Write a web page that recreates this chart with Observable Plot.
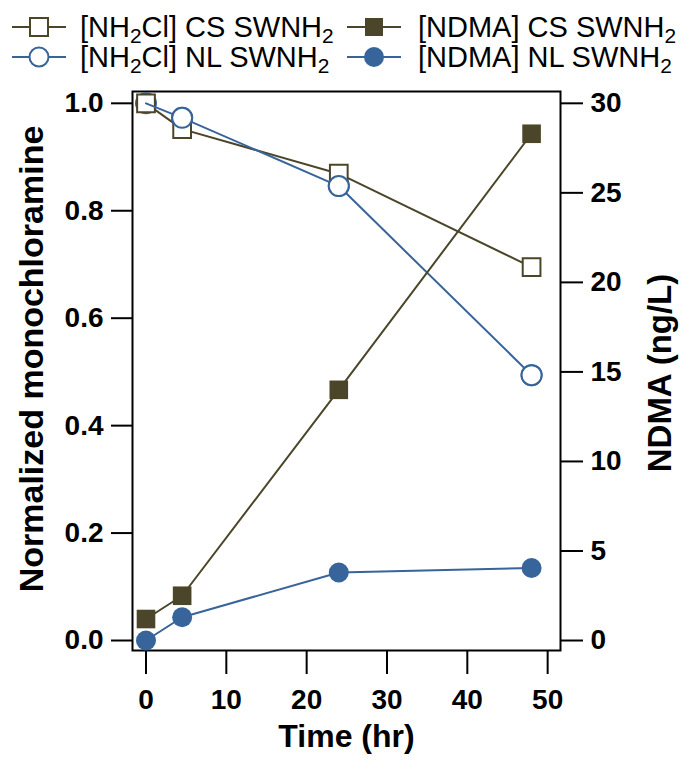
<!DOCTYPE html>
<html><head><meta charset="utf-8">
<script src="https://cdn.jsdelivr.net/npm/d3@7"></script>
<script src="https://cdn.jsdelivr.net/npm/@observablehq/plot@0.6"></script>
<style>
body{margin:0;background:#fff;}
#wrap{position:relative;width:685px;height:761px;font-family:"Liberation Sans",Arial,Helvetica,sans-serif;}
#chart{position:absolute;left:0;top:0;}
.legsw{position:absolute;}
.legtx{position:absolute;font-size:29px;line-height:30px;height:30px;color:#000;white-space:nowrap;}
.legtx sub{font-size:0.72em;vertical-align:-0.3em;line-height:0;}
</style></head><body>
<div id="wrap"><div id="chart"></div><div id="legend"></div></div>
<script>
// ---- data ----
const time = [0, 4.5, 24, 48];
const nh2clCS = [1.0, 0.952, 0.869, 0.695];
const nh2clNL = [1.0, 0.973, 0.846, 0.494];
const ndmaCS = [1.2, 2.5, 14.0, 28.3];
const ndmaNL = [0.0, 1.3, 3.8, 4.05];
const xTicks = [0, 10, 20, 30, 40, 50];
const leftTicks = [0, 0.2, 0.4, 0.6, 0.8, 1.0];
const rightTicks = [0, 5, 10, 15, 20, 25, 30];
const ndmaMax = 30;
const legendLabels = [
  "[NH<sub>2</sub>Cl] CS SWNH<sub>2</sub>",
  "[NDMA] CS SWNH<sub>2</sub>",
  "[NH<sub>2</sub>Cl] NL SWNH<sub>2</sub>",
  "[NDMA] NL SWNH<sub>2</sub>"
];

const olive = "#4b4629", blue = "#37649a";
const tidy = (vals, scale = 1) => time.map((t, i) => ({t, v: vals[i] / scale}));
const sCS = tidy(nh2clCS), sNL = tidy(nh2clNL);
const nCS = tidy(ndmaCS, ndmaMax), nNL = tidy(ndmaNL, ndmaMax);

const chart = Plot.plot({
  width: 685, height: 761,
  marginLeft: 132, marginRight: 125, marginTop: 91, marginBottom: 111,
  style: {fontFamily: "'Liberation Sans', Arial, Helvetica, sans-serif", fontWeight: "bold", color: "#000", background: "#fff"},
  x: {domain: [-1.68, 51.6]},
  y: {domain: [-0.0186, 1.022]},
  marks: [
    Plot.axisX(xTicks, {tickSize: 24, tickPadding: 15, fontSize: 28, fontWeight: "bold", strokeWidth: 2, label: null, tickFormat: d => String(d)}),
    Plot.axisY(leftTicks, {anchor: "left", tickSize: 21, tickPadding: 8, fontSize: 28, fontWeight: "bold", strokeWidth: 2, label: null, tickFormat: d3.format(".1f")}),
    Plot.axisY(rightTicks.map(t => t / ndmaMax), {anchor: "right", tickSize: 22, tickPadding: 8, fontSize: 28, fontWeight: "bold", strokeWidth: 2, label: null, tickFormat: d => String(Math.round(d * ndmaMax))}),
    Plot.frame({stroke: "#000", strokeWidth: 2}),
    // monochloramine
    Plot.dot(sNL, {x: "t", y: "v", r: 10, stroke: blue, strokeWidth: 2, fill: "#fff", symbol: "circle"}),
    Plot.line(sCS, {x: "t", y: "v", stroke: olive, strokeWidth: 2}),
    Plot.dot(sCS, {x: "t", y: "v", r: 10, stroke: olive, strokeWidth: 2, fill: "#fff", symbol: "square"}),
    Plot.line(sNL, {x: "t", y: "v", stroke: blue, strokeWidth: 2}),
    Plot.dot(sNL.slice(1), {x: "t", y: "v", r: 10, stroke: blue, strokeWidth: 2, fill: "#fff", symbol: "circle"}),
    // NDMA
    Plot.line(nCS, {x: "t", y: "v", stroke: olive, strokeWidth: 2}),
    Plot.dot(nCS, {x: "t", y: "v", r: 10.5, fill: olive, symbol: "square"}),
    Plot.line(nNL, {x: "t", y: "v", stroke: blue, strokeWidth: 2}),
    Plot.dot(nNL, {x: "t", y: "v", r: 10, fill: blue, symbol: "circle"}),
    // axis titles
    Plot.text(["Normalized monochloramine"], {frameAnchor: "left", textAnchor: "middle", lineAnchor: "middle", rotate: -90, dx: -100, dy: -12, fontSize: 34, fontWeight: "bold", fill: "#000"}),
    Plot.text(["NDMA (ng/L)"], {frameAnchor: "right", textAnchor: "middle", lineAnchor: "middle", rotate: -90, dx: 100, dy: 2, fontSize: 33, fontWeight: "bold", fill: "#000"}),
    Plot.text(["Time (hr)"], {frameAnchor: "bottom", textAnchor: "middle", lineAnchor: "middle", dy: 86, fontSize: 32, fontWeight: "bold", fill: "#000"})
  ]
});
document.getElementById("chart").appendChild(chart);

// ---- legend (HTML, above the plot area) ----
const legendItems = [
  {label: legendLabels[0], color: olive, shape: "square", filled: false, col: 0, row: 0},
  {label: legendLabels[1], color: olive, shape: "square", filled: true, col: 1, row: 0},
  {label: legendLabels[2], color: blue, shape: "circle", filled: false, col: 0, row: 1},
  {label: legendLabels[3], color: blue, shape: "circle", filled: true, col: 1, row: 1}
];
const colSw = [12, 347], colTx = [80, 418], rowY = [27, 57];
const leg = document.getElementById("legend");
for (const it of legendItems) {
  const sw = document.createElement("div");
  sw.className = "legsw";
  sw.style.left = colSw[it.col] + "px";
  sw.style.top = (rowY[it.row] - 12) + "px";
  const fill = it.filled ? it.color : "#fff";
  const marker = it.shape === "square"
    ? `<rect x="${27 - 9}" y="3" width="18" height="18" fill="${fill}" stroke="${it.filled ? "none" : it.color}" stroke-width="2"/>`
    : `<circle cx="27" cy="12" r="${it.filled ? 10 : 9.5}" fill="${fill}" stroke="${it.filled ? "none" : it.color}" stroke-width="2"/>`;
  sw.innerHTML = `<svg width="54" height="24"><line x1="0" x2="54" y1="12" y2="12" stroke="${it.color}" stroke-width="2"/>${marker}</svg>`;
  leg.appendChild(sw);
  const tx = document.createElement("div");
  tx.className = "legtx";
  tx.style.left = colTx[it.col] + "px";
  tx.style.top = (rowY[it.row] - 15) + "px";
  tx.innerHTML = it.label;
  leg.appendChild(tx);
}
</script>
</body></html>
